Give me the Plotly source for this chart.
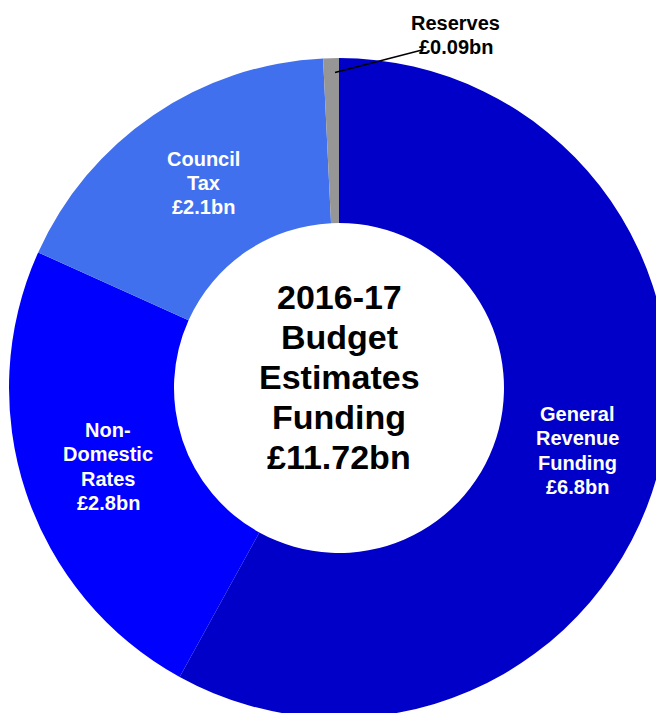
import plotly.graph_objects as go

W, H = 664, 713
OFF = 8  # page body margin in the browser

# ---- data ----
categories = ["General Revenue Funding", "Non-Domestic Rates", "Council Tax", "Reserves"]
values_bn = [6.80, 2.78, 2.05, 0.09]
value_labels = ["£6.8bn", "£2.8bn", "£2.1bn", "£0.09bn"]
label_lines = [["General", "Revenue", "Funding"], ["Non-", "Domestic", "Rates"], ["Council", "Tax"], ["Reserves"]]
centre_title = ["2016-17", "Budget", "Estimates", "Funding", "£11.72bn"]

colors = ["#0000C8", "#0000FF", "#4170EE", "#969696"]
FONT = "Liberation Sans, Arial, sans-serif"

fig = go.Figure(go.Pie(
    labels=categories,
    values=values_bn,
    hole=0.5,
    sort=False,
    direction="clockwise",
    rotation=0,
    textinfo="none",
    marker=dict(colors=colors, line=dict(width=0)),
    showlegend=False,
    domain=dict(x=[1 / W, 661 / W], y=[3 / H, 663 / H]),
))


def px(x, y):
    return (x - OFF) / W, 1 - (y - OFF) / H


annotations = []


def add_block(lines, cx, cy, size, color, spacing):
    n = len(lines)
    top = cy - spacing * (n - 1) / 2
    for i, t in enumerate(lines):
        xx, yy = px(cx, top + i * spacing)
        annotations.append(dict(
            x=xx, y=yy, xref="paper", yref="paper", text="<b>%s</b>" % t,
            showarrow=False, xanchor="center", yanchor="middle",
            font=dict(family=FONT, size=size, color=color)))


# slice labels (pixel positions of block centres)
label_pos = [(577, 450.5), (108, 466.5), (203, 183), (456, 35)]
label_col = ["white", "white", "white", "black"]
for lines, val, (cx, cy), col in zip(label_lines, value_labels, label_pos, label_col):
    add_block(lines + [val], cx, cy, 20, col, 24.2)

# centre title
add_block(centre_title, 339, 376.7, 34, "black", 40)

x0, y0 = px(335, 72.5)
x1, y1 = px(422, 50)
fig.update_layout(
    width=W, height=H,
    margin=dict(l=0, r=0, t=0, b=0),
    paper_bgcolor="white", plot_bgcolor="white",
    annotations=annotations,
    shapes=[dict(type="line", xref="paper", yref="paper", x0=x0, y0=y0, x1=x1, y1=y1,
                 line=dict(color="black", width=1.6))],
)

fig.write_html(
    "out.html",
    post_script="document.documentElement.style.overflow='hidden';document.body.style.overflow='hidden';",
)
